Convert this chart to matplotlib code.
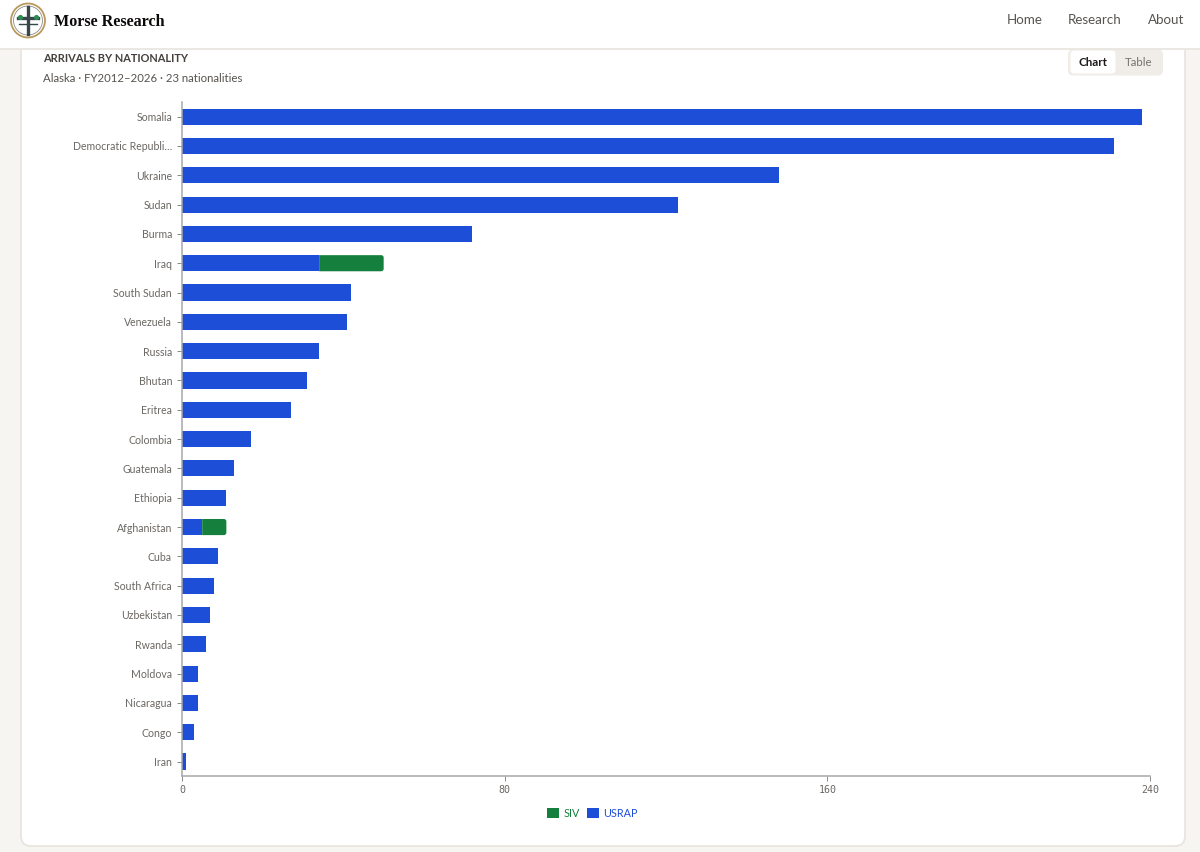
import matplotlib
matplotlib.use("Agg")
import matplotlib.pyplot as plt
from matplotlib.patches import FancyBboxPatch, Rectangle, Circle, Patch, PathPatch
from matplotlib.path import Path
from matplotlib.lines import Line2D

nationalities = ["Somalia", "Democratic Republi…", "Ukraine", "Sudan", "Burma", "Iraq",
                 "South Sudan", "Venezuela", "Russia", "Bhutan", "Eritrea", "Colombia",
                 "Guatemala", "Ethiopia", "Afghanistan", "Cuba", "South Africa",
                 "Uzbekistan", "Rwanda", "Moldova", "Nicaragua", "Congo", "Iran"]
usrap = [238, 231, 148, 123, 72, 34, 42, 41, 34, 31, 27, 17, 13, 11, 5, 9, 8, 7, 6, 4, 4, 3, 1]
siv = [0, 0, 0, 0, 0, 16, 0, 0, 0, 0, 0, 0, 0, 0, 6, 0, 0, 0, 0, 0, 0, 0, 0]
x_ticks = [0, 80, 160, 240]

W, H = 1200, 852
BLUE, GREEN = "#1d4ed8", "#15803d"
TEXT = "#57534e"
plt.rcParams["font.family"] = ["Lato", "DejaVu Sans"]

fig = plt.figure(figsize=(W / 100, H / 100), dpi=100, facecolor="#f7f5f1")

# page chrome in pixel coordinates
bg = fig.add_axes([0, 0, 1, 1])
bg.set_xlim(0, W); bg.set_ylim(H, 0); bg.axis("off")
bg.add_patch(FancyBboxPatch((21, 30), 1164, 816, boxstyle="round,pad=0,rounding_size=10",
                            fc="white", ec="#e7e3dd", lw=1.2))
bg.add_patch(Rectangle((0, 0), W, 48.5, fc="white", ec="none"))
bg.add_line(Line2D([0, W], [48.5, 48.5], color="#e9e5df", lw=1.3))

# logo
bg.add_patch(Circle((28, 20.5), 17, fc="white", ec="#b99a5b", lw=1.3))
bg.add_patch(Circle((28, 20.5), 14.5, fc="white", ec="#8d8d86", lw=0.6))
bg.add_line(Line2D([28, 28], [7, 34], color="#37474a", lw=2.4))
bg.add_line(Line2D([18, 38], [18, 18], color="#37474a", lw=2.4))
bg.add_line(Line2D([19, 37], [24, 24], color="#37474a", lw=1.0))
bg.scatter([20, 36], [17, 17], s=7, color="#2e8b57", zorder=3)

bg.text(54, 21.5, "Morse Research", family=["Liberation Serif", "DejaVu Serif"], fontsize=11.6,
        fontweight="bold", color="#0c0a09", va="center", ha="left")
for label, x in [("Home", 1024.5), ("Research", 1095), ("About", 1166)]:
    bg.text(x, 19.5, label, fontsize=9.6, color=TEXT, ha="center", va="center")

bg.text(43, 58, "ARRIVALS BY NATIONALITY", fontsize=7.9, fontweight="bold", color="#44403c",
        ha="left", va="center")
bg.text(43, 78, "Alaska · FY2012–2026 · 23 nationalities", fontsize=8.2, color=TEXT,
        ha="left", va="center")

# Chart/Table toggle
bg.add_patch(FancyBboxPatch((1068, 49.5), 95, 26, boxstyle="round,pad=0,rounding_size=5",
                            fc="#f0ede8", ec="none"))
bg.add_patch(FancyBboxPatch((1070.5, 50.5), 45, 23, boxstyle="round,pad=0,rounding_size=4",
                            fc="white", ec="none"))
bg.text(1093, 62, "Chart", fontsize=8.3, fontweight="bold", color="#1c1917", ha="center", va="center")
bg.text(1139, 62, "Table", fontsize=8.3, color="#78716c", ha="center", va="center")

# chart: axis spans x 182..1150 px, y 102..776.2 px
ax = fig.add_axes([182 / W, 1 - 776.2 / H, 968 / W, 674.2 / H])
ax.patch.set_alpha(0)
ys = list(range(len(nationalities)))
ax.barh(ys, usrap, height=0.55, color=BLUE, edgecolor="none", zorder=2)
siv_bars = ax.barh(ys, siv, left=usrap, height=0.55, color=GREEN, edgecolor="none", zorder=2)
ax.set_xlim(x_ticks[0], x_ticks[-1])
ax.set_ylim(len(nationalities) - 0.5, -0.5)

# SIV segments end in rounded right corners (2.5 px radius)
rx, ry = 2.5 * 240 / 968, 2.5 * len(nationalities) / 674
for rect in siv_bars:
    x0, y0, w, h = rect.get_x(), rect.get_y(), rect.get_width(), rect.get_height()
    if w <= 0:
        continue
    rect.set_visible(False)
    x1, y1 = x0 + w, y0 + h
    verts = [(x0, y0), (x1 - rx, y0), (x1, y0), (x1, y0 + ry), (x1, y1 - ry), (x1, y1),
             (x1 - rx, y1), (x0, y1), (x0, y0)]
    codes = [Path.MOVETO, Path.LINETO, Path.CURVE3, Path.CURVE3, Path.LINETO, Path.CURVE3,
             Path.CURVE3, Path.LINETO, Path.CLOSEPOLY]
    ax.add_patch(PathPatch(Path(verts, codes), fc=GREEN, ec="none", zorder=2))

ax.set_yticks(ys, nationalities)
ax.set_xticks(x_ticks, [str(t) for t in x_ticks])
for s in ("top", "right"):
    ax.spines[s].set_visible(False)
for s in ("left", "bottom"):
    ax.spines[s].set_color("#a8a8a8")
    ax.spines[s].set_linewidth(1.1)
ax.tick_params(axis="y", length=3.6, width=0.7, color="#8a8a8a", pad=3.6, labelsize=7.6, labelcolor="#6b6763")
ax.tick_params(axis="x", length=3.6, width=0.7, color="#8a8a8a", pad=2.5, labelsize=7.2, labelcolor="#6b6763")
for t in ax.get_xticklabels():
    t.set_family(["DejaVu Sans Mono"])

handles = [Patch(fc=GREEN, ec="none"), Patch(fc=BLUE, ec="none")]
leg = fig.legend(handles, ["SIV", "USRAP"], loc="center", bbox_to_anchor=(592.5 / W, 1 - 813.5 / H),
                 frameon=False, ncol=2, fontsize=7.8, handlelength=1.1, handleheight=1.0,
                 handletextpad=0.4, columnspacing=0.65, borderpad=0, borderaxespad=0)
for txt, c in zip(leg.get_texts(), [GREEN, BLUE]):
    txt.set_color(c)

fig.savefig("out.png", dpi=100, facecolor=fig.get_facecolor())
